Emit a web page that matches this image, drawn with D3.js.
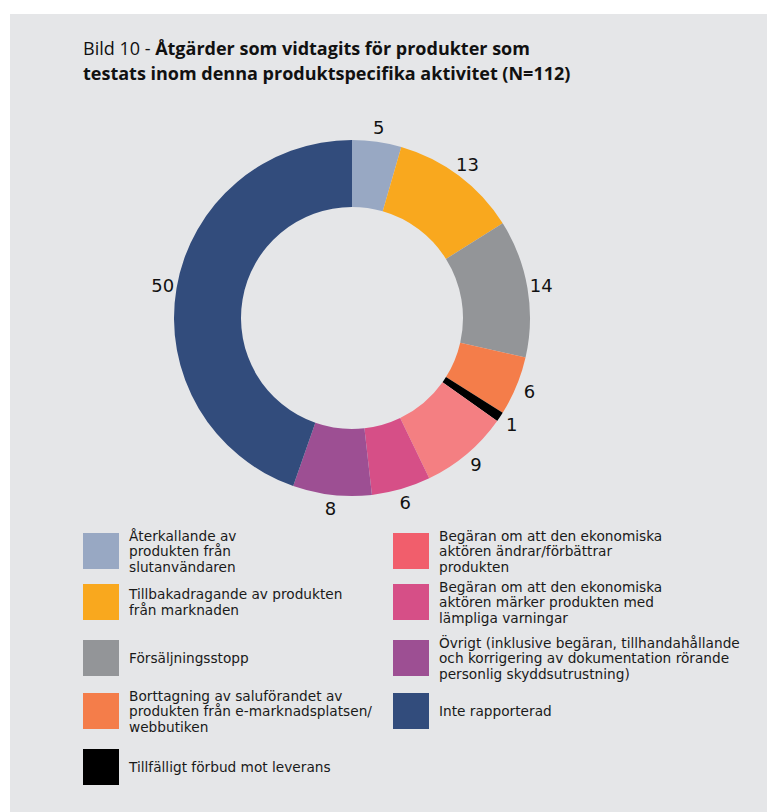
<!DOCTYPE html>
<html><head><meta charset="utf-8">
<script src="https://cdn.jsdelivr.net/npm/d3@7"></script>
<style>
html,body{margin:0;padding:0;background:#ffffff;}
svg{display:block;}
text{font-family:"Open Sans","Noto Sans",sans-serif;}
</style></head>
<body>
<svg id="chart" width="767" height="812"></svg>
<script>
const categories = [
  "Återkallande av produkten från slutanvändaren",
  "Tillbakadragande av produkten från marknaden",
  "Försäljningsstopp",
  "Borttagning av saluförandet av produkten från e-marknadsplatsen/webbutiken",
  "Tillfälligt förbud mot leverans",
  "Begäran om att den ekonomiska aktören ändrar/förbättrar produkten",
  "Begäran om att den ekonomiska aktören märker produkten med lämpliga varningar",
  "Övrigt (inklusive begäran, tillhandahållande och korrigering av dokumentation rörande personlig skyddsutrustning)",
  "Inte rapporterad"
];
const values = [5, 13, 14, 6, 1, 9, 6, 8, 50];
const legendLines = [
  ["Återkallande av", "produkten från", "slutanvändaren"],
  ["Tillbakadragande av produkten", "från marknaden"],
  ["Försäljningsstopp"],
  ["Borttagning av saluförandet av", "produkten från e-marknadsplatsen/", "webbutiken"],
  ["Tillfälligt förbud mot leverans"],
  ["Begäran om att den ekonomiska", "aktören ändrar/förbättrar", "produkten"],
  ["Begäran om att den ekonomiska", "aktören märker produkten med", "lämpliga varningar"],
  ["Övrigt (inklusive begäran, tillhandahållande", "och korrigering av dokumentation rörande", "personlig skyddsutrustning)"],
  ["Inte rapporterad"]
];
const titlePrefix = "Bild 10 - ";
const titleLine1 = "Åtgärder som vidtagits för produkter som";
const titleLine2 = "testats inom denna produktspecifika aktivitet (N=112)";

const sliceColors = ["#98a8c3","#f9a81e","#939598","#f47d4a","#000000","#f47f82","#d64f87","#9d4f93","#324c7c"];
const legendColors = ["#98a8c3","#f9a81e","#939598","#f47d4a","#000000","#f15e6c","#d64f87","#9d4f93","#324c7c"];

const svg = d3.select("#chart");
svg.append("rect").attr("x",10).attr("y",14).attr("width",757).attr("height",798).attr("fill","#e5e6e8");

// Title
const t1 = svg.append("text").attr("x",83).attr("y",55).attr("font-size",18).attr("fill","#111");
t1.append("tspan").text(titlePrefix);
t1.append("tspan").attr("font-weight","bold").text(titleLine1);
svg.append("text").attr("x",83).attr("y",80).attr("font-size",18).attr("font-weight","bold").attr("fill","#111").text(titleLine2);

// Donut
const cx = 352, cy = 318, rOuter = 178, rInner = 111, rLabel = 192;
const pie = d3.pie().sort(null).value(d => d)(values);
const arc = d3.arc().innerRadius(rInner).outerRadius(rOuter);
const g = svg.append("g").attr("transform",`translate(${cx},${cy})`);
g.selectAll("path").data(pie).enter().append("path")
  .attr("d", arc).attr("fill",(d,i)=>sliceColors[i]);
const labelArc = d3.arc().innerRadius(rLabel).outerRadius(rLabel);
g.selectAll("text.lbl").data(pie).enter().append("text").attr("class","lbl")
  .attr("transform", d => `translate(${labelArc.centroid(d)})`)
  .attr("text-anchor","middle").attr("dominant-baseline","central")
  .style("font-family","'DejaVu Sans',sans-serif")
  .attr("font-size",18).attr("fill","#111")
  .text(d => d.data);

// Legend
const colX = [83, 393];
const rowY = [533, 584, 640, 693, 749];
const positions = [[0,0],[0,1],[0,2],[0,3],[0,4],[1,0],[1,1],[1,2],[1,3]];
const lh = 15.5;
const leg = svg.append("g");
positions.forEach((p,i) => {
  const x = colX[p[0]], y = rowY[p[1]];
  leg.append("rect").attr("x",x).attr("y",y).attr("width",36).attr("height",36).attr("fill",legendColors[i]);
  const lines = legendLines[i];
  const mid = y + 18;
  const start = mid - (lines.length-1)*lh/2;
  lines.forEach((l,j) => {
    leg.append("text").attr("x", x+46).attr("y", start + j*lh + 5)
      .style("font-family","'DejaVu Sans',sans-serif")
      .attr("font-size",13.7).attr("fill","#1a1a1a").text(l);
  });
});
</script>
</body></html>
